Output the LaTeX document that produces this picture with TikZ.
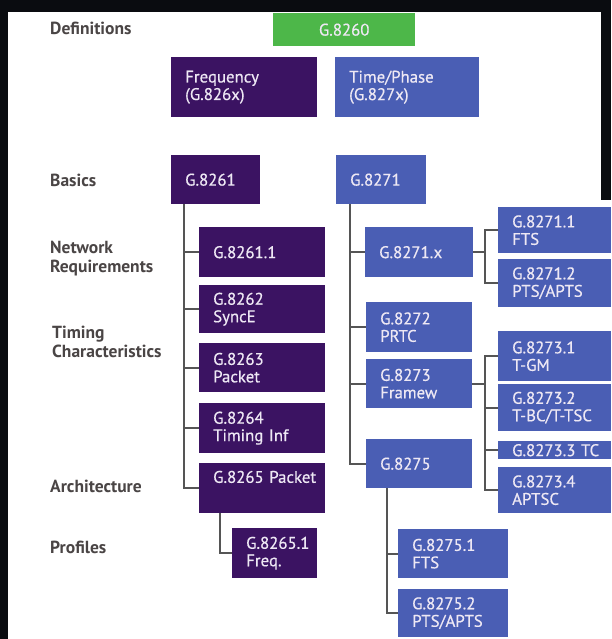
\documentclass[tikz,border=0pt]{standalone}
\usepackage{fontspec}
\setmainfont{PT Sans}
\newfontfamily\boxfont[FakeBold=0.5]{PT Sans}
\usetikzlibrary{positioning}
\definecolor{frame}{HTML}{0A0C10}
\definecolor{freqpurple}{HTML}{3B1362}
\definecolor{phaseblue}{HTML}{4A5EB4}
\definecolor{defgreen}{HTML}{4DB749}
\definecolor{boxtext}{HTML}{EEE8F4}
\definecolor{lbltext}{HTML}{4A4545}
\definecolor{wire}{HTML}{555555}
\tikzset{
  every node/.style={font=\boxfont\fontsize{16.8}{17.5}\selectfont},
  box/.style={anchor=north west, inner xsep=14pt, inner ysep=0pt, align=left, text=boxtext},
  sz/.style 2 args={text width=#1, minimum height=#2},
  pbox/.style={box, fill=freqpurple},
  bbox/.style={box, fill=phaseblue},
  gbox/.style={box, fill=defgreen, align=center},
  lvl/.style={anchor=west, inner sep=0pt, align=left, text=lbltext,
              font=\bfseries\fontsize{17.5}{19}\selectfont},
  conn/.style={draw=wire, line width=1.6pt},
}

\begin{document}
\begin{tikzpicture}[x=1pt, y=-1pt]
\useasboundingbox (0,0) rectangle (611,639);

% --- dark frame ---
\fill[frame] (0,0) rectangle (611,12);
\fill[frame] (0,0) rectangle (8,639);
\fill[frame] (601,0) rectangle (611,200);

% --- row labels ---
\node[lvl] (ldef) at (50,28) {Definitions};
\node[lvl] (lbas) at (50,180) {Basics};
\node[lvl] (lnet) at (50,258.5) {Network\\Requirements};
\node[lvl] (ltim) at (52,341.5) {Timing\\Characteristics};
\node[lvl] (larc) at (50,486) {Architecture};
\node[lvl] (lpro) at (50,547) {Profiles};

% --- top ---
\node[gbox, sz={114pt}{33pt}] (g8260) at (273,13) {G.8260};
\node[pbox, sz={118pt}{60pt}] (freq) at (171,57) {Frequency\\(G.826x)};
\node[bbox, sz={116pt}{60pt}] (phase) at (335,57) {Time/Phase\\(G.827x)};

% --- frequency branch ---
\node[pbox, sz={61pt}{49pt}] (g8261) at (171,155) {G.8261};
\node[pbox, sz={98pt}{50pt}] (g82611) at (199,227) {G.8261.1};
\node[pbox, sz={98pt}{48pt}] (g8262) at (199,285) {G.8262\\SyncE};
\node[pbox, sz={98pt}{49pt}] (g8263) at (199,343) {G.8263\\Packet};
\node[pbox, sz={98pt}{50pt}] (g8264) at (199,403) {G.8264\\Timing Inf};
\node[pbox, sz={98pt}{50pt}] (g8265) at (199,463) {G.8265~Packet\\\strut};
\node[pbox, sz={57pt}{50pt}] (g82651) at (232,528) {G.8265.1\\Freq.};

% --- time/phase branch ---
\node[bbox, sz={62pt}{49pt}] (g8271) at (336,155) {G.8271};
\node[bbox, sz={80pt}{50pt}] (g8271x) at (365,227) {G.8271.x};
\node[bbox, sz={78pt}{50pt}] (g8272) at (366,302) {G.8272\\PRTC};
\node[bbox, sz={78pt}{49pt}] (g8273) at (366,359) {G.8273\\Framew};
\node[bbox, sz={78pt}{49pt}] (g8275) at (366,439) {G.8275};

\node[bbox, sz={85pt}{46pt}] (g82711) at (498,207) {G.8271.1\\FTS};
\node[bbox, sz={85pt}{48pt}] (g82712) at (498,259) {G.8271.2\\PTS/APTS};
\node[bbox, sz={85pt}{50pt}] (g82731) at (498,331) {G.8273.1\\T-GM};
\node[bbox, sz={85pt}{47pt}] (g82732) at (498,384) {G.8273.2\\T-BC/T-TSC};
\node[bbox, sz={85pt}{18pt}] (g82733) at (498,441) {G.8273.3~TC};
\node[bbox, sz={85pt}{46pt}] (g82734) at (498,467) {G.8273.4\\APTSC};

\node[bbox, sz={82pt}{49pt}] (g82751) at (398,529) {G.8275.1\\FTS};
\node[bbox, sz={82pt}{48pt}] (g82752) at (398,589) {G.8275.2\\PTS/APTS};

% --- connectors ---
\foreach \c in {g82611,g8262,g8263,g8264,g8265}
  \draw[conn] ([xshift=13pt]g8261.south west) |- (\c.west);
\draw[conn] ([xshift=21pt]g8265.south west) |- (g82651.west);

\foreach \c in {g8271x,g8272,g8273,g8275}
  \draw[conn] ([xshift=14pt]g8271.south west) |- (\c.west);
\foreach \c in {g82711,g82712}
  \draw[conn] (g8271x.east) -| ([xshift=-13pt]\c.west) -- (\c.west);
\foreach \c in {g82731,g82732,g82733,g82734}
  \draw[conn] (g8273.east) -| ([xshift=-13pt]\c.west) -- (\c.west);
\foreach \c in {g82751,g82752}
  \draw[conn] ([xshift=21pt]g8275.south west) |- (\c.west);

\end{tikzpicture}
\end{document}
